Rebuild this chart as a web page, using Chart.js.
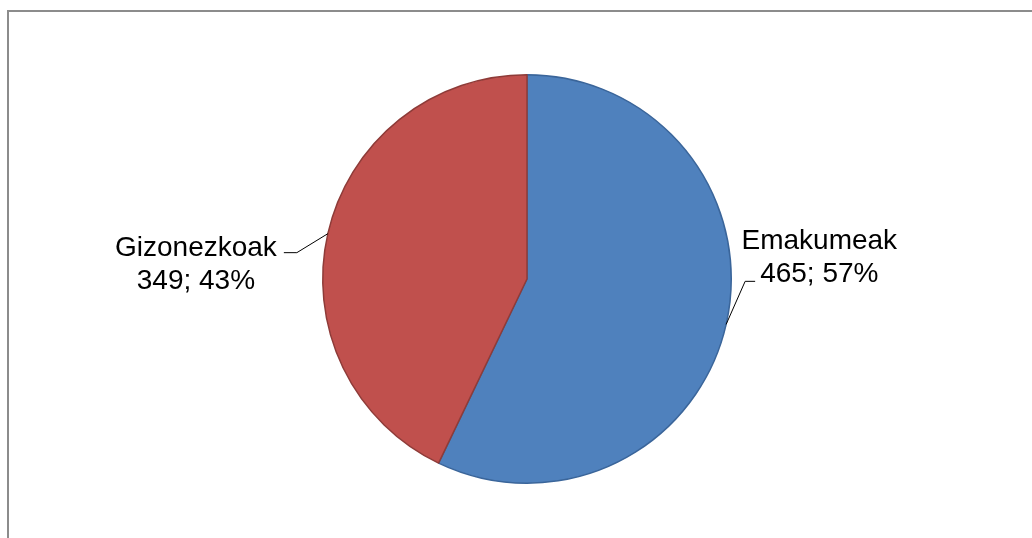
<!DOCTYPE html>
<html>
<head>
<meta charset="utf-8">
<script src="https://cdn.jsdelivr.net/npm/chart.js@4/dist/chart.umd.min.js"></script>
<style>
  html, body { margin: 0; padding: 0; background: #fff; overflow: hidden; }
  #wrap { position: relative; width: 1032px; height: 538px; }
  #frame {
    position: absolute; left: 7px; top: 10px; width: 1100px; height: 700px;
    border-left: 2px solid #8c8c8c; border-top: 2px solid #8c8c8c;
  }
  canvas { position: absolute; left: 0; top: 0; }
</style>
</head>
<body>
<div id="wrap">
  <div id="frame"></div>
  <canvas id="myChart" width="1032" height="538"></canvas>
</div>
<script>
const labels = ['Emakumeak', 'Gizonezkoak'];
const values = [465, 349];
const colors = ['#4F81BD', '#C0504D'];
const borders = ['#3A659A', '#8E3B38'];

// leader line layout per label: elbow offset from slice edge, then horizontal run
const leaders = [
    { elbow: [19, -43], run: 10 },
    { elbow: [-31, 19], run: -13 },
];

const total = values.reduce((a, b) => a + b, 0);

const pieLabels = {
    id: 'pieLabels',
    afterDatasetsDraw(chart) {
        const ctx = chart.ctx;
        const meta = chart.getDatasetMeta(0);
        ctx.save();
        ctx.font = '28px "Liberation Sans", Arial, sans-serif';
        ctx.fillStyle = '#000';
        ctx.strokeStyle = '#000';
        ctx.lineWidth = 1;
        meta.data.forEach((arc, i) => {
            const mid = (arc.startAngle + arc.endAngle) / 2;
            const ex = arc.x + Math.cos(mid) * arc.outerRadius;
            const ey = arc.y + Math.sin(mid) * arc.outerRadius;
            const bx = ex + leaders[i].elbow[0];
            const by = ey + leaders[i].elbow[1];
            const tx = bx + leaders[i].run;
            ctx.beginPath();
            ctx.moveTo(ex, ey);
            ctx.lineTo(bx, by);
            ctx.lineTo(tx, by);
            ctx.stroke();

            const line1 = labels[i];
            const line2 = values[i] + '; ' + Math.round(values[i] / total * 100) + '%';
            const w1 = ctx.measureText(line1).width;
            const w2 = ctx.measureText(line2).width;
            ctx.textAlign = 'center';
            ctx.textBaseline = 'alphabetic';
            let cx, base2;
            if (leaders[i].run > 0) {
                // line touches bottom-left of the second line
                cx = tx + 5 + w2 / 2;
                base2 = by + 1;
            } else {
                // line touches right end of the first line
                cx = tx - 7 - w1 / 2;
                base2 = by + 3 + 33;
            }
            ctx.fillText(line1, cx, base2 - 33);
            ctx.fillText(line2, cx, base2);
        });
        ctx.restore();
    }
};

const data = {
    labels: labels,
    datasets: [{
        data: values,
        backgroundColor: colors,
        borderColor: borders,
        borderWidth: 1.5,
    }]
};

const config = {
    type: 'pie',
    data: data,
    options: {
        responsive: false,
        animation: false,
        events: [],
        layout: { padding: { top: 74, bottom: 54, left: 200, right: 178 } },
        plugins: {
            legend: { display: false },
            tooltip: { enabled: false },
        }
    },
    plugins: [pieLabels]
};

const myChart = new Chart(
    document.getElementById('myChart'),
    config
);
</script>
</body>
</html>
